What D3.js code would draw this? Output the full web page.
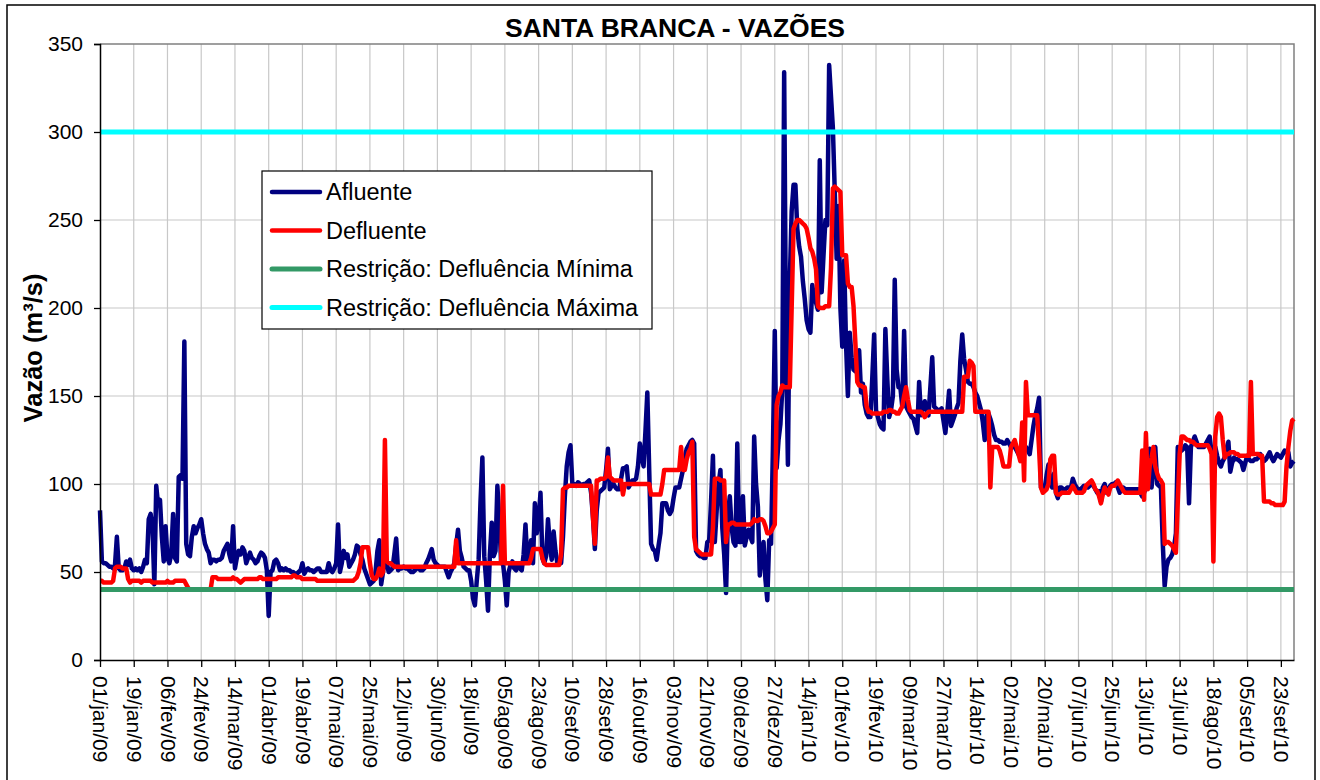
<!DOCTYPE html>
<html>
<head>
<meta charset="utf-8">
<script src="https://cdn.jsdelivr.net/npm/d3@7"></script>
<style>
  body { margin: 0; background: #fff; }
  svg { display: block; font-family: "Liberation Sans", Arial, sans-serif; }
</style>
</head>
<body>
<div id="chart"></div>
<script>
// daily flows (m³/s), one value per day from 01/jan/09 to 30/set/10
const afluente = [
  85, 56, 55, 55, 54, 53, 53, 52, 54, 70, 52, 51, 51, 52, 56, 54, 57, 52,
  51, 52, 51, 52, 50, 53, 57, 55, 80, 83, 75, 43, 99, 88, 91, 70, 56, 76,
  58, 55, 60, 83, 58, 56, 104, 105, 103, 181, 66, 60, 59, 70, 76, 72, 75, 77,
  80, 72, 66, 63, 61, 55, 57, 57, 56, 57, 57, 58, 62, 64, 66, 60, 56, 76,
  52, 58, 62, 60, 64, 62, 55, 58, 61, 58, 57, 55, 56, 59, 61, 60, 58, 51,
  25, 50, 51, 56, 57, 55, 51, 52, 51, 52, 51, 51, 50, 50, 49, 49, 50, 51,
  55, 49, 51, 52, 51, 51, 50, 51, 52, 52, 50, 50, 50, 50, 55, 51, 50, 52,
  55, 77, 50, 55, 62, 58, 60, 53, 55, 57, 60, 65, 64, 60, 57, 52, 49, 46,
  43, 44, 45, 50, 62, 68, 43, 50, 59, 55, 50, 51, 52, 60, 69, 51, 52, 52,
  53, 52, 52, 51, 50, 50, 51, 52, 52, 51, 51, 52, 55, 57, 60, 63, 57, 55,
  54, 53, 53, 53, 53, 50, 47, 50, 52, 55, 65, 74, 62, 58, 53, 52, 51, 51,
  45, 35, 31, 45, 57, 90, 115, 59, 45, 28, 60, 78, 59, 62, 99, 80, 55, 55,
  45, 31, 50, 54, 56, 52, 51, 54, 52, 51, 60, 77, 56, 58, 68, 55, 89, 72,
  80, 95, 58, 55, 59, 80, 65, 57, 73, 62, 55, 55, 55, 70, 93, 110, 118, 122,
  100, 100, 99, 101, 100, 99, 100, 100, 101, 102, 95, 81, 63, 85, 95, 96, 97, 98,
  108, 120, 97, 99, 100, 98, 97, 97, 103, 109, 109, 110, 98, 100, 102, 102, 103, 110,
  123, 115, 110, 130, 152, 108, 66, 63, 62, 57, 65, 72, 89, 89, 89, 85, 83, 85,
  92, 98, 98, 98, 103, 108, 115, 120, 122, 124, 125, 123, 62, 60, 59, 59, 58, 58,
  67, 68, 90, 116, 67, 85, 100, 108, 75, 60, 38, 83, 93, 75, 67, 65, 123, 67,
  67, 93, 65, 70, 74, 70, 67, 127, 100, 87, 48, 60, 67, 46, 34, 68, 66, 120,
  187, 109, 125, 134, 154, 334, 180, 111, 215, 255, 270, 270, 245, 235, 229, 215, 205, 193,
  188, 186, 213, 205, 203, 199, 284, 209, 230, 250, 247, 338, 320, 302, 266, 228, 258, 200,
  178, 227, 180, 150, 186, 172, 165, 164, 170, 176, 152, 157, 145, 140, 138, 138, 160, 185,
  142, 138, 134, 132, 131, 188, 160, 138, 142, 150, 216, 165, 155, 155, 144, 187, 144, 142,
  140, 138, 137, 133, 129, 158, 139, 143, 147, 142, 139, 155, 172, 144, 143, 142, 142, 143,
  136, 129, 140, 153, 133, 136, 139, 143, 146, 170, 185, 171, 165, 158, 157, 157, 155, 152,
  150, 146, 142, 135, 125, 139, 140, 137, 133, 128, 125, 125, 124, 124, 123, 123, 125, 123,
  121, 121, 121, 119, 117, 116, 118, 120, 121, 119, 117, 125, 133, 139, 143, 149, 98, 97,
  97, 105, 111, 100, 98, 106, 95, 92, 98, 98, 97, 97, 98, 98, 98, 103, 100, 98,
  97, 97, 98, 99, 98, 98, 99, 100, 99, 97, 95, 96, 90, 98, 100, 95, 97, 99,
  100, 100, 101, 98, 95, 97, 98, 97, 97, 97, 97, 97, 97, 97, 97, 95, 93, 95,
  98, 105, 120, 98, 110, 121, 100, 99, 98, 66, 42, 53, 57, 58, 60, 64, 72, 121,
  120, 119, 120, 122, 121, 89, 121, 124, 127, 124, 121, 121, 121, 121, 123, 125, 127, 118,
  118, 121, 116, 112, 110, 113, 115, 120, 124, 107, 112, 115, 114, 114, 113, 112, 108, 112,
  116, 114, 113, 113, 114, 114, 115, 117, 115, 113, 114, 116, 118, 115, 113, 115, 117, 116,
  115, 117, 119, 118, 118, 110, 112, 113
];

const defluente = [
  45, 45, 44, 44, 44, 44, 44, 45, 52, 53, 53, 53, 52, 52, 52, 46, 44, 45,
  45, 45, 45, 45, 44, 45, 45, 45, 45, 45, 44, 44, 44, 44, 44, 44, 44, 44,
  45, 44, 44, 44, 45, 45, 45, 45, 45, 45, 43, 41, 40, 40, 40, 40, 40, 40,
  40, 40, 40, 40, 40, 40, 47, 47, 47, 46, 46, 46, 46, 46, 46, 46, 46, 47,
  46, 46, 45, 44, 45, 46, 46, 46, 46, 46, 46, 46, 46, 47, 47, 46, 46, 46,
  46, 46, 46, 46, 46, 47, 47, 47, 47, 47, 47, 47, 47, 48, 48, 47, 47, 47,
  46, 46, 46, 46, 46, 46, 46, 46, 45, 45, 45, 45, 45, 45, 45, 45, 45, 45,
  45, 45, 45, 45, 45, 45, 45, 45, 45, 45, 46, 47, 50, 55, 64, 64, 64, 64,
  55, 48, 46, 46, 48, 52, 48, 50, 125, 56, 55, 55, 54, 53, 53, 53, 53, 53,
  53, 53, 53, 53, 53, 53, 53, 53, 53, 53, 53, 53, 53, 53, 53, 53, 53, 53,
  53, 53, 53, 53, 53, 53, 53, 53, 53, 53, 68, 55, 55, 55, 55, 55, 55, 55,
  55, 55, 55, 55, 55, 55, 55, 55, 55, 55, 55, 55, 55, 55, 55, 55, 55, 99,
  55, 55, 55, 55, 55, 55, 55, 55, 55, 55, 55, 55, 55, 55, 58, 63, 63, 63,
  63, 63, 58, 55, 54, 54, 54, 54, 54, 54, 54, 54, 60, 97, 98, 98, 99, 99,
  99, 99, 99, 99, 99, 99, 99, 99, 99, 99, 99, 81, 66, 102, 102, 103, 103, 103,
  104, 115, 104, 103, 102, 102, 102, 102, 102, 94, 100, 100, 100, 100, 100, 100, 100, 100,
  100, 100, 100, 100, 100, 100, 94, 94, 94, 94, 94, 94, 100, 108, 108, 108, 108, 108,
  108, 108, 108, 108, 121, 108, 108, 114, 118, 120, 124, 70, 63, 62, 61, 60, 60, 60,
  60, 60, 60, 75, 103, 103, 103, 102, 102, 102, 67, 77, 77, 78, 78, 77, 77, 77,
  77, 77, 77, 77, 77, 77, 78, 80, 79, 79, 80, 80, 79, 76, 72, 72, 73, 75,
  77, 145, 150, 152, 156, 155, 155, 155, 155, 200, 245, 248, 250, 250, 249, 248, 247, 245,
  240, 234, 232, 228, 222, 201, 200, 200, 200, 201, 201, 201, 223, 268, 269, 268, 267, 266,
  230, 230, 230, 214, 212, 212, 201, 180, 158, 156, 156, 155, 155, 144, 141, 141, 140, 140,
  140, 140, 140, 140, 141, 141, 141, 142, 142, 141, 141, 140, 140, 142, 144, 150, 155, 148,
  142, 141, 141, 141, 141, 141, 141, 140, 138, 140, 141, 141, 141, 141, 141, 141, 141, 141,
  141, 141, 141, 141, 141, 141, 141, 141, 141, 141, 141, 161, 161, 161, 170, 169, 167, 141,
  141, 141, 141, 141, 141, 141, 141, 98, 121, 121, 121, 121, 119, 115, 110, 110, 110, 110,
  121, 123, 125, 121, 117, 113, 135, 102, 158, 139, 139, 139, 139, 139, 139, 120, 98, 95,
  96, 97, 100, 114, 116, 116, 95, 94, 94, 95, 95, 95, 95, 95, 97, 99, 97, 95,
  95, 95, 95, 96, 99, 100, 101, 102, 100, 97, 96, 93, 89, 94, 98, 96, 94, 98,
  99, 99, 100, 102, 100, 98, 96, 95, 95, 95, 95, 95, 95, 95, 95, 95, 119, 91,
  129, 97, 110, 115, 121, 110, 106, 103, 102, 100, 66, 67, 67, 66, 65, 63, 61, 90,
  117, 127, 127, 126, 125, 125, 124, 124, 123, 122, 122, 122, 122, 122, 122, 122, 120, 117,
  56, 127, 138, 140, 138, 125, 115, 117, 117, 118, 118, 118, 117, 117, 116, 116, 116, 116,
  116, 116, 158, 117, 117, 117, 117, 116, 116, 90, 90, 90, 90, 89, 89, 88, 88, 88,
  88, 88, 90, 110, 121, 130, 136, 137
];

// restrictions (constant lines)
const defluenciaMinima = 40;
const defluenciaMaxima = 300;

const yTicks = [0, 50, 100, 150, 200, 250, 300, 350];

const tickLabels = [
  "01/jan/09", "19/jan/09", "06/fev/09", "24/fev/09", "14/mar/09", "01/abr/09",
  "19/abr/09", "07/mai/09", "25/mai/09", "12/jun/09", "30/jun/09", "18/jul/09",
  "05/ago/09", "23/ago/09", "10/set/09", "28/set/09", "16/out/09", "03/nov/09",
  "21/nov/09", "09/dez/09", "27/dez/09", "14/jan/10", "01/fev/10", "19/fev/10",
  "09/mar/10", "27/mar/10", "14/abr/10", "02/mai/10", "20/mai/10", "07/jun/10",
  "25/jun/10", "13/jul/10", "31/jul/10", "18/ago/10", "05/set/10", "23/set/10"
];

const meses = ["jan", "fev", "mar", "abr", "mai", "jun", "jul", "ago", "set", "out", "nov", "dez"];

const seriesNames = [
  "Afluente",
  "Defluente",
  "Restrição: Defluência Mínima",
  "Restrição: Defluência Máxima"
];
const seriesColors = ["#000080", "#ff0000", "#339966", "#00ffff"];
const seriesWidths = [4.5, 4.5, 5, 5];

// set margins and canvas size
const W = 1320, H = 780;
const plot = { left: 100, right: 1294, top: 44, bottom: 660 };

const days = d3.timeDay.range(new Date(2009, 0, 1), new Date(2010, 9, 1)).slice(0, afluente.length);

function parseLabel(s) {
  const p = s.split("/");
  return new Date(2000 + +p[2], meses.indexOf(p[1]), +p[0]);
}

const x = d3.scaleTime()
  .domain([days[0], days[days.length - 1]])
  .range([plot.left, plot.right]);
const y = d3.scaleLinear()
  .domain([0, 350])
  .range([plot.bottom, plot.top]);

const svg = d3.select("#chart")
  .append("svg")
  .attr("width", W)
  .attr("height", H);

svg.append("rect").attr("width", W).attr("height", H).attr("fill", "#fff");

// chart area border
svg.append("rect")
  .attr("x", 7).attr("y", 5)
  .attr("width", 1308).attr("height", 820)
  .attr("fill", "none")
  .attr("stroke", "#000")
  .attr("stroke-width", 1.5);

// gridlines
const grid = svg.append("g").attr("class", "grid");
grid.selectAll("line.h")
  .data(yTicks.filter(d => d > 0 && d < 350))
  .enter()
  .append("line")
  .attr("class", "h")
  .attr("x1", plot.left).attr("x2", plot.right)
  .attr("y1", d => y(d)).attr("y2", d => y(d))
  .attr("stroke", "#c8c8c8")
  .attr("stroke-width", 1.2);
grid.selectAll("line.v")
  .data(tickLabels.slice(1))
  .enter()
  .append("line")
  .attr("class", "v")
  .attr("x1", d => x(parseLabel(d))).attr("x2", d => x(parseLabel(d)))
  .attr("y1", plot.top).attr("y2", plot.bottom)
  .attr("stroke", "#c8c8c8")
  .attr("stroke-width", 1.2);

// plot area border (top/right)
svg.append("path")
  .attr("d", `M${plot.left},${plot.top}H${plot.right}V${plot.bottom}`)
  .attr("fill", "none")
  .attr("stroke", "#808080")
  .attr("stroke-width", 1.5);

// series
const line = d3.line()
  .x((d, i) => x(days[i]))
  .y(d => y(d));
const flatLine = d3.line()
  .x(d => x(d.date))
  .y(d => y(d.v));
const ends = [days[0], days[days.length - 1]];

const series = svg.append("g").attr("class", "series");
series.append("path")
  .attr("d", line(afluente))
  .attr("fill", "none")
  .attr("stroke", seriesColors[0])
  .attr("stroke-width", seriesWidths[0])
  .attr("stroke-linejoin", "round");
series.append("path")
  .attr("d", line(defluente))
  .attr("fill", "none")
  .attr("stroke", seriesColors[1])
  .attr("stroke-width", seriesWidths[1])
  .attr("stroke-linejoin", "round");
[defluenciaMinima, defluenciaMaxima].forEach((v, k) => {
  series.append("path")
    .attr("d", flatLine(ends.map(date => ({ date: date, v: v }))))
    .attr("fill", "none")
    .attr("stroke", seriesColors[k + 2])
    .attr("stroke-width", seriesWidths[k + 2]);
});

// y axis
const yAxis = svg.append("g")
  .attr("transform", `translate(${plot.left},0)`)
  .call(d3.axisLeft(y).tickValues(yTicks).tickSize(6).tickPadding(11));
yAxis.select(".domain").attr("stroke", "#000").attr("stroke-width", 1.5);
yAxis.selectAll(".tick line").attr("stroke", "#000").attr("stroke-width", 1.3);
yAxis.selectAll("text")
  .attr("font-size", "21px")
  .attr("font-family", "Liberation Sans, Arial, sans-serif")
  .attr("fill", "#000");

// x axis
const xAxis = svg.append("g")
  .attr("transform", `translate(0,${plot.bottom})`)
  .call(
    d3.axisBottom(x)
      .tickValues(tickLabels.map(parseLabel))
      .tickFormat((d, i) => tickLabels[i])
      .tickSize(7)
      .tickSizeOuter(0)
  );
xAxis.select(".domain").attr("stroke", "#000").attr("stroke-width", 1.5);
xAxis.selectAll(".tick line").attr("stroke", "#000").attr("stroke-width", 1.3);
xAxis.selectAll("text")
  .attr("font-size", "21px")
  .attr("font-family", "Liberation Sans, Arial, sans-serif")
  .attr("fill", "#000")
  .attr("transform", "rotate(90)")
  .attr("x", 16)
  .attr("y", 0)
  .attr("dy", "0.35em")
  .style("text-anchor", "start");

// title
svg.append("text")
  .attr("x", 675)
  .attr("y", 37)
  .attr("text-anchor", "middle")
  .attr("font-size", "26.5px")
  .attr("font-weight", "bold")
  .text("SANTA BRANCA - VAZÕES");

// y axis title
svg.append("text")
  .attr("transform", "translate(42,348) rotate(-90)")
  .attr("text-anchor", "middle")
  .attr("font-size", "25.5px")
  .attr("font-weight", "bold")
  .text("Vazão (m³/s)");

// legend
const legend = svg.append("g").attr("transform", "translate(262,171)");
legend.append("rect")
  .attr("width", 390)
  .attr("height", 158)
  .attr("fill", "#fff")
  .attr("stroke", "#000")
  .attr("stroke-width", 1.2);
const item = legend.selectAll("g.item")
  .data(seriesNames)
  .enter()
  .append("g")
  .attr("class", "item")
  .attr("transform", (d, i) => `translate(0,${21 + i * 38.5})`);
item.append("line")
  .attr("x1", 10).attr("x2", 58)
  .attr("stroke", (d, i) => seriesColors[i])
  .attr("stroke-width", (d, i) => seriesWidths[i])
  .attr("stroke-linecap", "round");
item.append("text")
  .attr("x", 64)
  .attr("dy", "0.35em")
  .attr("font-size", "23.5px")
  .text(d => d);
</script>
</body>
</html>
